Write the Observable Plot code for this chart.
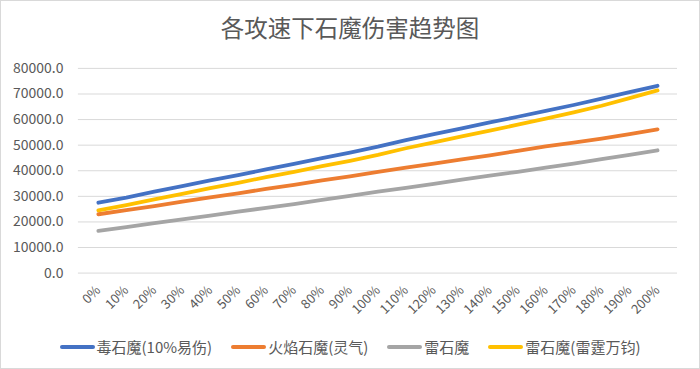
<!DOCTYPE html>
<html><head><meta charset="utf-8">
<script src="https://cdn.jsdelivr.net/npm/d3@7"></script>
<script src="https://cdn.jsdelivr.net/npm/@observablehq/plot@0.6"></script>
<style>
body{margin:0;background:#fff;font-family:"Noto Sans CJK SC","Noto Sans",sans-serif;}
#wrap{position:relative;width:698px;height:367px;border:1px solid #d9d9d9;overflow:hidden;}
#title{position:absolute;left:0;top:10px;width:698px;text-align:center;font-size:23.5px;color:#595959;line-height:32px;}
#chart{position:absolute;left:-1px;top:-1px;}
#legend{position:absolute;left:0;top:334px;width:698px;display:flex;justify-content:center;gap:19px;font-size:15px;color:#595959;line-height:24px;}
.item{display:flex;align-items:center;gap:2px;}
.sw{display:inline-block;width:35px;height:4px;border-radius:2px;}
</style></head>
<body>
<div id="wrap">
<div id="title">各攻速下石魔伤害趋势图</div>
<div id="chart"></div>
<div id="legend"></div>
</div>
<script>
const categories = ["0%","10%","20%","30%","40%","50%","60%","70%","80%","90%","100%","110%","120%","130%","140%","150%","160%","170%","180%","190%","200%"];
const seriesNames = ["毒石魔(10%易伤)","火焰石魔(灵气)","雷石魔","雷石魔(雷霆万钧)"];
const colors = ["#4472C4","#ED7D31","#A5A5A5","#FFC000"];
const poison = [27500,29500,31800,34000,36200,38300,40500,42700,44900,47100,49400,52000,54300,56600,58900,61100,63400,65700,68200,70700,73200];
const fire   = [23000,24600,26200,27900,29600,31200,32900,34500,36200,37800,39600,41200,42800,44400,46000,47800,49500,51000,52600,54300,56200];
const thunder= [16500,18000,19500,21000,22500,24000,25500,27000,28600,30200,31800,33300,34900,36500,38100,39600,41200,42800,44500,46200,48000];
const thunderWrath = [24500,26600,28800,31000,33200,35300,37500,39600,41800,43900,46200,48800,51100,53400,55700,58000,60400,62800,65400,68400,71400];
const yTicks = [0,10000,20000,30000,40000,50000,60000,70000,80000];

const allSeries = [poison, fire, thunder, thunderWrath];
const data = [];
allSeries.forEach((vals, si) => vals.forEach((v, i) => data.push({cat: categories[i], value: v, series: seriesNames[si]})));

const chart = Plot.plot({
  width: 700, height: 330,
  marginTop: 68, marginBottom: 57, marginLeft: 78, marginRight: 22,
  style: {fontFamily: "'Noto Sans CJK SC','Noto Sans',sans-serif", color: "#595959", background: "transparent"},
  x: {type: "point", domain: categories, padding: 0.5, label: null},
  y: {domain: [0, 80000], label: null},
  color: {domain: seriesNames, range: colors},
  marks: [
    Plot.gridY(yTicks, {stroke: "#d9d9d9", strokeOpacity: 1, strokeWidth: 1}),
    Plot.axisY(yTicks, {tickSize: 0, tickPadding: 15, tickFormat: d => d.toFixed(1), fontSize: 14, fill: "#595959"}),
    Plot.axisX({tickSize: 0, tickPadding: 15, tickRotate: -45, fontSize: 13, fill: "#595959"}),
    Plot.lineY(data, {x: "cat", y: "value", stroke: "series", z: "series", strokeWidth: 3.8, strokeLinecap: "round", strokeLinejoin: "round"})
  ]
});
document.getElementById("chart").appendChild(chart);

const legend = document.getElementById("legend");
seriesNames.forEach((n, i) => {
  const it = document.createElement("div"); it.className = "item";
  const sw = document.createElement("span"); sw.className = "sw"; sw.style.background = colors[i];
  const t = document.createElement("span"); t.textContent = n;
  it.appendChild(sw); it.appendChild(t); legend.appendChild(it);
});
</script>
</body></html>
